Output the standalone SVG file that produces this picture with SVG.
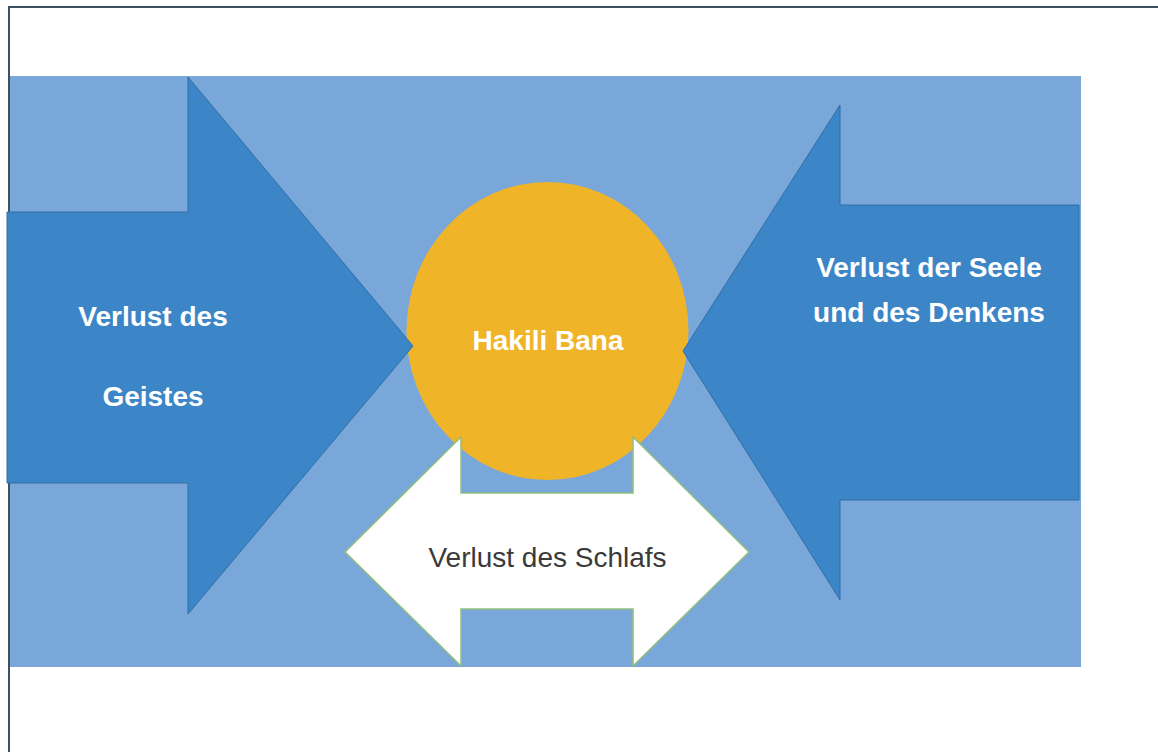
<svg xmlns="http://www.w3.org/2000/svg" width="1158" height="752" viewBox="0 0 1158 752">
  <style>
    .bold { font-family: "Liberation Sans", Arial, sans-serif; font-weight: bold; font-size: 28px; fill: #ffffff; text-anchor: middle; }
    .reg { font-family: "Liberation Sans", Arial, sans-serif; font-size: 28px; fill: #3a3a3a; text-anchor: middle; }
    .dark { fill: #3c86c7; stroke: #2f6fa8; stroke-width: 1; stroke-linejoin: miter; }
  </style>
  <rect x="0" y="0" width="1158" height="752" fill="#ffffff"/>
  <g id="frame">
    <line x1="8" y1="7" x2="1158" y2="7" stroke="#3d5160" stroke-width="2"/>
    <line x1="9" y1="6" x2="9" y2="752" stroke="#3d5160" stroke-width="2"/>
  </g>
  <rect id="background" x="10" y="76" width="1071" height="591" fill="#7aa7d9"/>
  <g id="center">
    <ellipse cx="547.5" cy="331" rx="141" ry="149" fill="#f0b428"/>
    <text class="bold" x="548" y="350">Hakili Bana</text>
  </g>
  <g id="connectors">
    <g id="arrow-left">
      <polygon class="dark" points="7,212 188,212 188,77 413,346 188,614 188,483 7,483"/>
      <text class="bold" x="153" y="326">Verlust des</text>
      <text class="bold" x="153" y="406">Geistes</text>
    </g>
    <g id="arrow-right">
      <polygon class="dark" points="1079,205 840,205 840,105 683,351 840,600 840,500 1079,500"/>
      <text class="bold" x="929" y="277">Verlust der Seele</text>
      <text class="bold" x="929" y="322">und des Denkens</text>
    </g>
    <g id="arrow-bottom">
      <polygon points="345,552 461,437 461,493 633,493 633,437 749,552 633,666 633,609 461,609 461,666" fill="#ffffff" stroke="#8fbf7f" stroke-width="1.5"/>
      <text class="reg" x="547.5" y="567">Verlust des Schlafs</text>
    </g>
  </g>
</svg>
